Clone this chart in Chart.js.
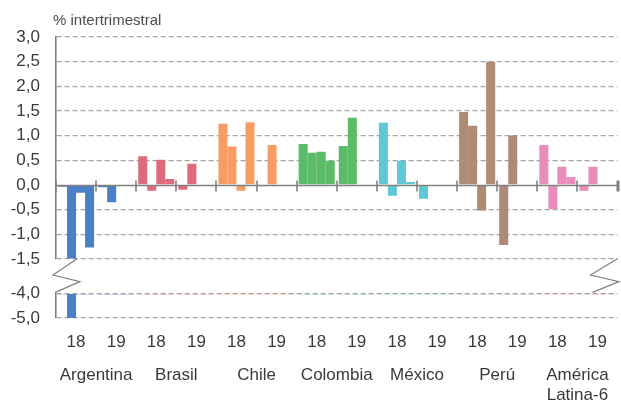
<!DOCTYPE html>
<html lang="es">
<head>
<meta charset="utf-8">
<title>Crecimiento del PIB</title>
<script src="https://cdn.jsdelivr.net/npm/chart.js@4.4.1/dist/chart.umd.min.js"></script>
<style>
  html, body { margin: 0; padding: 0; background: #fff; }
  #wrap { position: relative; width: 621px; height: 401px; }
</style>
</head>
<body>
<div id="wrap"><canvas id="gdpChart"></canvas></div>
<script>
// PIB, % intertrimestral: 2018 T1-T4, 2019 T1-T2
const countries = ['Argentina', 'Brasil', 'Chile', 'Colombia', 'México', 'Perú', ['América', 'Latina-6']];
const yearLabels = ['18', '19'];
const quarters = ['T1', 'T2', 'T3', 'T4'];

const argentina = [-0.04, -5.0, -0.16, -1.27, -0.05, -0.35];
const brasil    = [0.58, -0.12, 0.51, 0.12, -0.10, 0.43];
const chile     = [1.24, 0.78, -0.12, 1.27, -0.03, 0.81];
const colombia  = [0.83, 0.65, 0.67, 0.49, 0.79, 1.36];
const mexico    = [1.26, -0.22, 0.49, 0.06, -0.28, 0.0];
const peru      = [1.48, 1.20, -0.52, 2.50, -1.22, 1.00];
const latam6    = [0.81, -0.49, 0.37, 0.16, -0.12, 0.37];

const countryColors = ['#4a80c4', '#dd6b7d', '#f79d63', '#5cbb69', '#5fc8d5', '#ae8a77', '#ea8cb9'];

// broken value axis: upper panel and lower panel ranges
const upperRange = [-1.5, 3.0];
const lowerRange = [-5.0, -4.0];

const series = [argentina, brasil, chile, colombia, mexico, peru, latam6];
const xLabels = countries.flatMap(() => yearLabels);
const barColors = countryColors.flatMap(c => [c, c]);

// one value per year group for quarter q (2019 only has T1, T2)
function quarterValues(q) {
    const out = [];
    series.forEach(s => {
        out.push(s[q]);
        out.push(q < 2 ? s[4 + q] : null);
    });
    return out;
}

const datasets = [];
quarters.forEach((q, qi) => {
    const vals = quarterValues(qi);
    datasets.push({
        label: q,
        data: vals.map(v => v === null ? null : Math.max(v, upperRange[0])),
        yAxisID: 'y',
        stack: q,
        backgroundColor: barColors
    });
});
quarters.forEach((q, qi) => {
    const vals = quarterValues(qi);
    // below the break only the deep values show; the rest leave a hairline on -4,0
    datasets.push({
        label: q + ' (inf)',
        data: vals.map(v => v !== null && v < lowerRange[1] ? v : lowerRange[1] - 0.04),
        yAxisID: 'y2',
        stack: q,
        base: lowerRange[1],
        backgroundColor: barColors
    });
});

const FONT = 'Liberation Sans, Arial, Helvetica, sans-serif';
const TEXT = '#3a3a3a';
const AXIS = '#808080';
const GRID = '#a3a3a3';

const fmt = v => v.toFixed(1).replace('.', ',');

const zeroAxis = {
    id: 'zeroAxis',
    afterDatasetsDraw(chart) {
        const { ctx, scales: { x, y } } = chart;
        const y0 = Math.round(y.getPixelForValue(0)) + 0.5;
        ctx.save();
        ctx.strokeStyle = AXIS;
        ctx.lineWidth = 1.6;
        ctx.beginPath();
        ctx.moveTo(x.left, y0);
        ctx.lineTo(x.right, y0);
        ctx.stroke();
        // tick marks between year groups
        for (let i = 0; i <= xLabels.length; i++) {
            const px = Math.round(x.getPixelForValue(i - 0.5));
            ctx.lineWidth = i === xLabels.length ? 3 : 1.6;
            ctx.beginPath();
            ctx.moveTo(px, y0 - 5);
            ctx.lineTo(px, y0 + 6);
            ctx.stroke();
        }
        ctx.restore();
    }
};

const axisBreak = {
    id: 'axisBreak',
    afterDraw(chart) {
        const { ctx, scales: { y, y2 } } = chart;
        const top = y.bottom, bottom = y2.top;
        const h = bottom - top;
        const zig = (x0, dx) => {
            ctx.beginPath();
            ctx.moveTo(x0 + dx[0], top);
            ctx.lineTo(x0 + dx[1], top + h * 0.47);
            ctx.lineTo(x0 + dx[2], top + h * 0.66);
            ctx.lineTo(x0 + dx[3], bottom - 1);
            ctx.stroke();
        };
        ctx.save();
        ctx.strokeStyle = AXIS;
        ctx.lineWidth = 1.2;
        zig(y.right, [21, -3, 24, -1]);
        zig(chart.chartArea.right, [0, -27, 1.5, -25]);
        ctx.restore();
    }
};

const unitLabel = {
    id: 'unitLabel',
    afterDraw(chart) {
        const { ctx, chartArea } = chart;
        ctx.save();
        ctx.font = '15px ' + FONT;
        ctx.fillStyle = '#4d4d4d';
        ctx.textBaseline = 'alphabetic';
        ctx.textAlign = 'left';
        ctx.fillText('% intertrimestral', chartArea.left - 3, 24.5);
        ctx.restore();
    }
};

const fixWidth = s => { s.width = 56; };

new Chart(document.getElementById('gdpChart'), {
    type: 'bar',
    data: { labels: xLabels, datasets },
    options: {
        responsive: true,
        maintainAspectRatio: false,
        animation: false,
        layout: { padding: { top: 37, right: 2, bottom: 0, left: 0 } },
        datasets: { bar: { categoryPercentage: 0.9, barPercentage: 1.0 } },
        plugins: { legend: { display: false }, tooltip: { enabled: false } },
        scales: {
            x: {
                type: 'category',
                position: 'bottom',
                offset: true,
                grid: { display: false, drawTicks: false },
                border: { display: false },
                ticks: {
                    autoSkip: false, maxRotation: 0, padding: 14,
                    color: TEXT, font: { family: FONT, size: 17 }
                },
                afterFit: s => { s.height = 38; }
            },
            x2: {
                type: 'category',
                position: 'bottom',
                labels: countries,
                offset: true,
                grid: { display: false, drawTicks: false },
                border: { display: false },
                ticks: {
                    autoSkip: false, maxRotation: 0, padding: 9,
                    color: TEXT, font: { family: FONT, size: 17, lineHeight: 1.2 }
                },
                afterFit: s => { s.height = 45; }
            },
            // stacked panels are laid out bottom-up in definition order
            y2: {
                type: 'linear',
                position: 'left',
                stack: 'value',
                stackWeight: 1,
                stacked: false,
                min: lowerRange[0],
                max: lowerRange[1],
                grid: { drawTicks: false, color: GRID, lineWidth: 1.2 },
                border: { display: true, color: AXIS, width: 1.6, dash: [5, 3] },
                ticks: {
                    stepSize: 1, padding: 16, color: TEXT, autoSkip: false,
                    font: { family: FONT, size: 17 },
                    callback: v => fmt(v)
                },
                afterFit: fixWidth
            },
            gap: {
                type: 'linear',
                position: 'left',
                stack: 'value',
                stackWeight: 1.4,
                grid: { display: false, drawTicks: false },
                border: { display: false },
                ticks: { display: false },
                afterFit: fixWidth
            },
            y: {
                type: 'linear',
                position: 'left',
                stack: 'value',
                stackWeight: 9,
                stacked: false,
                min: upperRange[0],
                max: upperRange[1],
                grid: {
                    drawTicks: false,
                    lineWidth: 1.2,
                    color: c => c.tick && c.tick.value === 0 ? 'rgba(0,0,0,0)' : GRID
                },
                border: { display: true, color: AXIS, width: 1.6, dash: [5, 3] },
                ticks: {
                    stepSize: 0.5, padding: 16, color: TEXT, autoSkip: false,
                    font: { family: FONT, size: 17 },
                    callback: v => fmt(v)
                },
                afterFit: fixWidth
            }
        }
    },
    plugins: [zeroAxis, axisBreak, unitLabel]
});
</script>
</body>
</html>
